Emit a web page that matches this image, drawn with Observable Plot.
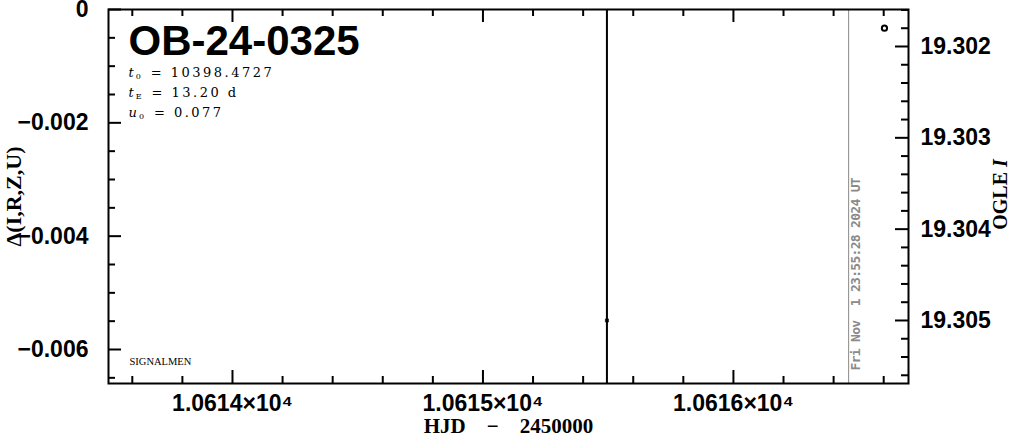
<!DOCTYPE html>
<html><head><meta charset="utf-8">
<script src="https://cdn.jsdelivr.net/npm/d3@7"></script>
<script src="https://cdn.jsdelivr.net/npm/@observablehq/plot@0.6"></script>
<style>
body{margin:0;background:#fff}
#wrap{position:relative;width:1011px;height:440px}
#wrap svg{position:absolute;left:0;top:0}
</style></head><body><div id="wrap"></div>
<script>
// ---- data ----
const eventName = "OB-24-0325";
const params = ["t0 = 10398.4727", "tE = 13.20 d", "u0 = 0.077"];
const sourceLabel = "SIGNALMEN";
const xLabel = "HJD\u2002\u2002−\u2002\u20022450000";
const leftLabel = "Δ(I,R,Z,U)";
const rightLabel = "OGLE I";
const xDomain = [10613.505, 10616.699];
const deltaDomain = [-0.0066, 0];
const magDomain = [19.301595, 19.30569];
const xMajor = [10614, 10615, 10616];
const xMinor = [10613.6, 10613.8, 10614.2, 10614.4, 10614.6, 10614.8, 10615.2, 10615.4, 10615.6, 10615.8, 10616.2, 10616.4, 10616.6];
const deltaMajor = [0, -0.002, -0.004, -0.006];
const deltaMinor = [-0.0005, -0.001, -0.0015, -0.0025, -0.003, -0.0035, -0.0045, -0.005, -0.0055, -0.0065];
const magMajor = [19.302, 19.303, 19.304, 19.305];
const magMinor = [19.3016, 19.3018, 19.3022, 19.3024, 19.3026, 19.3028, 19.3032, 19.3034, 19.3036, 19.3038, 19.3042, 19.3044, 19.3046, 19.3048, 19.3052, 19.3054, 19.3056];
const obsHJD = [10615.495];
const obsMag = [19.3050];
const obsErr = [0.01];
const openHJD = [10616.603];
const openMag = [19.3018];
const nowHJD = 10616.46;
const nowLabel = "Fri Nov\u00a0\u00a01 23:55:28 2024 UT";

// ---- layout ----
const W = 1011, H = 440, mL = 108, mR = 103, mT = 9, mB = 57;
const innerW = W - mL - mR, innerH = H - mT - mB;
const MAJ = 13, MIN = 7;
const tickStyle = {stroke: "black", strokeWidth: 2};
const labelFont = {fontFamily: "Liberation Sans", fontWeight: "bold", fontSize: 23};

const obs = obsHJD.map((x, i) => ({x, mag: obsMag[i], err: obsErr[i]}));
const open = openHJD.map((x, i) => ({x, mag: openMag[i]}));
const xFmt = d => (d / 1e4).toFixed(4) + "×10⁴";
const dFmt = d => d === 0 ? "0" : d3.format(".3f")(d);

const p1 = Plot.plot({
  width: W, height: H, marginLeft: mL, marginRight: mR, marginTop: mT, marginBottom: mB,
  style: "background: transparent; font-family: 'Liberation Sans';",
  x: {domain: xDomain},
  y: {domain: deltaDomain},
  marks: [
    Plot.ruleX([nowHJD], {x: d => d, stroke: "#8a8a8a", strokeWidth: 1}),
    Plot.text([nowLabel], {x: () => nowHJD, text: d => d, frameAnchor: "bottom", rotate: -90, textAnchor: "start", lineAnchor: "middle",
      dx: 7.5, dy: -13, fill: "#8a8a8a", fontFamily: "DejaVu Sans Mono", fontWeight: "bold", fontSize: 13}),
    Plot.frame({stroke: "black", strokeWidth: 2}),
    Plot.tickX(xMajor, {x: d => d, insetTop: innerH - MAJ, ...tickStyle}),
    Plot.tickX(xMinor, {x: d => d, insetTop: innerH - MIN, ...tickStyle}),
    Plot.tickX(xMajor, {x: d => d, insetBottom: innerH - MAJ, ...tickStyle}),
    Plot.tickX(xMinor, {x: d => d, insetBottom: innerH - MIN, ...tickStyle}),
    Plot.tickY(deltaMajor, {y: d => d, insetRight: innerW - MAJ, ...tickStyle}),
    Plot.tickY(deltaMinor, {y: d => d, insetRight: innerW - MIN, ...tickStyle}),
    Plot.axisX({ticks: xMajor, tickSize: 0, tickPadding: 11, tickFormat: xFmt, label: null, ...labelFont}),
    Plot.axisY({ticks: deltaMajor, tickSize: 0, tickPadding: 20, tickFormat: dFmt, label: null, ...labelFont}),
    Plot.text([xLabel], {frameAnchor: "bottom", lineAnchor: "middle", dy: 43, fontFamily: "Liberation Serif", fontWeight: "bold", fontSize: 21}),
    Plot.text([leftLabel], {frameAnchor: "left", rotate: -90, textAnchor: "middle", lineAnchor: "middle", dx: -95, fontFamily: "Liberation Serif", fontWeight: "bold", fontSize: 22}),
    Plot.text([eventName], {frameAnchor: "top-left", dx: 20, dy: 16, fontFamily: "Liberation Sans", fontWeight: "bold", fontSize: 42}),
    ...params.map((p, i) => Plot.text([p], {frameAnchor: "top-left", dx: 20, dy: 58 + 20 * i, fontFamily: "DejaVu Serif", fontSize: 13})),
    Plot.text([sourceLabel], {frameAnchor: "bottom-left", lineAnchor: "middle", dx: 21, dy: -22, fontFamily: "Liberation Serif", fontSize: 10.5})
  ]
});

const p2 = Plot.plot({
  width: W, height: H, marginLeft: mL, marginRight: mR, marginTop: mT, marginBottom: mB,
  style: "background: transparent; font-family: 'Liberation Sans';",
  x: {domain: xDomain, axis: null},
  y: {domain: magDomain, reverse: true},
  marks: [
    Plot.tickY(magMajor, {y: d => d, insetLeft: innerW - MAJ, ...tickStyle}),
    Plot.tickY(magMinor, {y: d => d, insetLeft: innerW - MIN, ...tickStyle}),
    Plot.axisY({ticks: magMajor, anchor: "right", tickSize: 0, tickPadding: 12, tickFormat: d3.format(".3f"), label: null, ...labelFont}),
    Plot.text([rightLabel], {frameAnchor: "right", rotate: -90, textAnchor: "middle", lineAnchor: "middle", dx: 92, dy: -2, fontFamily: "Liberation Serif", fontWeight: "bold", fontSize: 20}),
    Plot.ruleX(obs, {x: "x", y1: d => d.mag - d.err, y2: d => d.mag + d.err, stroke: "black", strokeWidth: 2, clip: true}),
    Plot.dot(obs, {x: "x", y: "mag", symbol: "square", r: 1.8, fill: "black", stroke: "black", strokeWidth: 0.5}),
    Plot.dot(open, {x: "x", y: "mag", r: 2.6, stroke: "black", strokeWidth: 2, fill: "none"})
  ]
});

const wrap = document.getElementById("wrap");
wrap.appendChild(p1);
wrap.appendChild(p2);

// date label: slightly condensed to match the reference's length
d3.select(p1).selectAll("text").filter(function() { return this.textContent === nowLabel; })
  .style("letter-spacing", "-0.7px");

// typographic touches: italic variables with subscripts
d3.select(p1).selectAll("text").each(function() {
  const t = this.textContent;
  const m = /^([tu])([0E]) = (.+)$/.exec(t);
  if (!m) return;
  const el = d3.select(this);
  el.text(null);
  el.append("tspan").attr("font-style", "italic").text(m[1]);
  el.append("tspan").attr("font-size", 8).attr("dx", 2).attr("dy", 2).text(m[2]);
  el.append("tspan").attr("dy", -2).attr("dx", 10).text("=");
  el.append("tspan").attr("dx", 9).style("letter-spacing", "2.5px").text(m[3]);
});
d3.select(p2).selectAll("text").each(function() {
  if (this.textContent !== rightLabel) return;
  const el = d3.select(this);
  el.text(null);
  el.append("tspan").text("OGLE ");
  el.append("tspan").attr("font-style", "italic").text("I");
});
</script>
</body></html>
